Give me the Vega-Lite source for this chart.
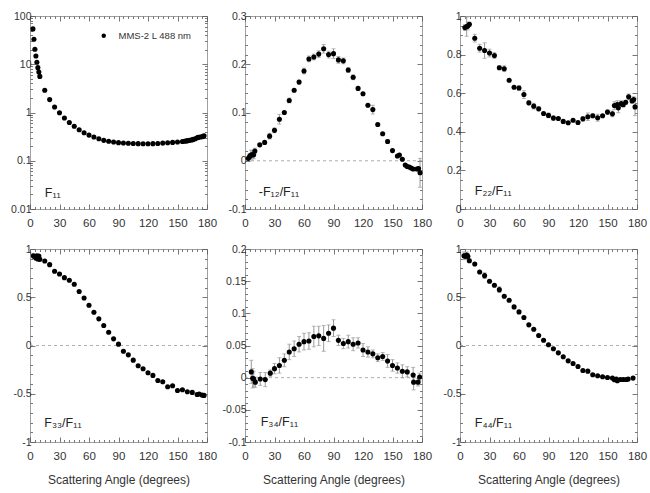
{
"$schema":"https://vega.github.io/schema/vega-lite/v6.json",
"padding":{"left":10,"top":10,"right":2,"bottom":2},
"background":"white",
"config":{"view":{"stroke":"#a0a0a0","strokeWidth":1},
 "axis":{"domain":false,"grid":false,"tickColor":"#555","tickWidth":0.8,"labelFont":"Liberation Sans","labelColor":"#333","labelFontSize":10.5,"titleFont":"Liberation Sans","titleFontWeight":"normal","titleFontSize":12,"titleColor":"#333","labelFlush":false,"labelOverlap":false,"labelBound":false},
 "legend":{"labelFont":"Liberation Sans","labelFontSize":9.5,"labelColor":"#333"},
 "text":{"font":"Liberation Sans","fontSize":12.5,"color":"#222"}},
"data":{"values":[
{"p":"F11","a":3,"v":54},{"p":"F11","a":4,"v":33},{"p":"F11","a":5,"v":20.4},{"p":"F11","a":6,"v":14.8},{"p":"F11","a":7,"v":11},{"p":"F11","a":8,"v":8.5},{"p":"F11","a":9,"v":6.9},{"p":"F11","a":10,"v":5.6},{"p":"F11","a":15,"v":2.9},{"p":"F11","a":20,"v":1.85},{"p":"F11","a":25,"v":1.3},{"p":"F11","a":30,"v":0.99},{"p":"F11","a":35,"v":0.77},{"p":"F11","a":40,"v":0.62},{"p":"F11","a":45,"v":0.52},{"p":"F11","a":50,"v":0.44},{"p":"F11","a":55,"v":0.38},{"p":"F11","a":60,"v":0.34},{"p":"F11","a":65,"v":0.31},{"p":"F11","a":70,"v":0.286},{"p":"F11","a":75,"v":0.265},{"p":"F11","a":80,"v":0.253},{"p":"F11","a":85,"v":0.245},{"p":"F11","a":90,"v":0.237},{"p":"F11","a":95,"v":0.233},{"p":"F11","a":100,"v":0.23},{"p":"F11","a":105,"v":0.228},{"p":"F11","a":110,"v":0.226},{"p":"F11","a":115,"v":0.225},{"p":"F11","a":120,"v":0.225},{"p":"F11","a":125,"v":0.226},{"p":"F11","a":130,"v":0.228},{"p":"F11","a":135,"v":0.232},{"p":"F11","a":140,"v":0.236},{"p":"F11","a":145,"v":0.24},{"p":"F11","a":150,"v":0.245},{"p":"F11","a":155,"v":0.25},{"p":"F11","a":157,"v":0.254},{"p":"F11","a":159,"v":0.258},{"p":"F11","a":160,"v":0.26},{"p":"F11","a":162,"v":0.265},{"p":"F11","a":164,"v":0.27},{"p":"F11","a":165,"v":0.273},{"p":"F11","a":166,"v":0.277},{"p":"F11","a":168,"v":0.285},{"p":"F11","a":170,"v":0.3},{"p":"F11","a":171,"v":0.305},{"p":"F11","a":173,"v":0.31},{"p":"F11","a":175,"v":0.315},{"p":"F11","a":176,"v":0.32},{"p":"F11","a":177,"v":0.33},
{"p":"F12","a":3.4,"v":0.005},{"p":"F12","a":4.7,"v":0.009,"e":0.006},{"p":"F12","a":6,"v":0.012,"e":0.01},{"p":"F12","a":7.4,"v":0.013,"e":0.008},{"p":"F12","a":8.8,"v":0.012,"e":0.008},{"p":"F12","a":10,"v":0.02,"e":0.006},{"p":"F12","a":15,"v":0.033},{"p":"F12","a":20,"v":0.038},{"p":"F12","a":25,"v":0.051,"e":0.006},{"p":"F12","a":30,"v":0.063,"e":0.005},{"p":"F12","a":35,"v":0.086,"e":0.01},{"p":"F12","a":40,"v":0.1},{"p":"F12","a":45,"v":0.125,"e":0.005},{"p":"F12","a":50,"v":0.146},{"p":"F12","a":55,"v":0.163,"e":0.004},{"p":"F12","a":60,"v":0.186,"e":0.006},{"p":"F12","a":65,"v":0.211,"e":0.006},{"p":"F12","a":70,"v":0.215,"e":0.006},{"p":"F12","a":75,"v":0.221,"e":0.007},{"p":"F12","a":80,"v":0.232,"e":0.009},{"p":"F12","a":85,"v":0.22,"e":0.007},{"p":"F12","a":90,"v":0.222,"e":0.01},{"p":"F12","a":95,"v":0.209,"e":0.007},{"p":"F12","a":100,"v":0.207,"e":0.006},{"p":"F12","a":105,"v":0.188,"e":0.005},{"p":"F12","a":110,"v":0.173,"e":0.005},{"p":"F12","a":115,"v":0.15},{"p":"F12","a":120,"v":0.139},{"p":"F12","a":125,"v":0.115},{"p":"F12","a":130,"v":0.106,"e":0.009},{"p":"F12","a":135,"v":0.075},{"p":"F12","a":140,"v":0.056},{"p":"F12","a":145,"v":0.04,"e":0.004},{"p":"F12","a":150,"v":0.021},{"p":"F12","a":155,"v":0.01},{"p":"F12","a":157,"v":0.012},{"p":"F12","a":160,"v":0.003},{"p":"F12","a":163,"v":-0.009},{"p":"F12","a":165,"v":-0.012},{"p":"F12","a":167,"v":-0.013},{"p":"F12","a":169,"v":-0.015},{"p":"F12","a":171,"v":-0.017},{"p":"F12","a":175,"v":-0.017,"e":0.004},{"p":"F12","a":176.5,"v":-0.016},{"p":"F12","a":178,"v":-0.025,"e":0.03},
{"p":"F22","a":5,"v":0.94,"e":0.015},{"p":"F22","a":6.8,"v":0.945,"e":0.05},{"p":"F22","a":8,"v":0.948,"e":0.02},{"p":"F22","a":9.5,"v":0.957,"e":0.01},{"p":"F22","a":15,"v":0.885,"e":0.02},{"p":"F22","a":20,"v":0.833,"e":0.02},{"p":"F22","a":25,"v":0.821,"e":0.04},{"p":"F22","a":30,"v":0.808,"e":0.02},{"p":"F22","a":35,"v":0.795,"e":0.015},{"p":"F22","a":40,"v":0.732,"e":0.01},{"p":"F22","a":45,"v":0.727,"e":0.015},{"p":"F22","a":50,"v":0.667},{"p":"F22","a":55,"v":0.631},{"p":"F22","a":60,"v":0.627,"e":0.012},{"p":"F22","a":65,"v":0.593,"e":0.02},{"p":"F22","a":70,"v":0.55,"e":0.01},{"p":"F22","a":75,"v":0.533,"e":0.015},{"p":"F22","a":80,"v":0.519,"e":0.01},{"p":"F22","a":85,"v":0.495},{"p":"F22","a":90,"v":0.485,"e":0.012},{"p":"F22","a":95,"v":0.471,"e":0.012},{"p":"F22","a":100,"v":0.469},{"p":"F22","a":105,"v":0.454},{"p":"F22","a":110,"v":0.447},{"p":"F22","a":115,"v":0.46},{"p":"F22","a":120,"v":0.448},{"p":"F22","a":125,"v":0.467,"e":0.012},{"p":"F22","a":130,"v":0.478,"e":0.02},{"p":"F22","a":135,"v":0.483,"e":0.01},{"p":"F22","a":140,"v":0.473,"e":0.018},{"p":"F22","a":145,"v":0.483},{"p":"F22","a":150,"v":0.502,"e":0.012},{"p":"F22","a":155,"v":0.493,"e":0.015},{"p":"F22","a":157,"v":0.536,"e":0.02},{"p":"F22","a":160,"v":0.541,"e":0.02},{"p":"F22","a":161,"v":0.524,"e":0.025},{"p":"F22","a":164,"v":0.546,"e":0.015},{"p":"F22","a":166,"v":0.54,"e":0.01},{"p":"F22","a":168.5,"v":0.553,"e":0.01},{"p":"F22","a":171.5,"v":0.581,"e":0.015},{"p":"F22","a":175,"v":0.56,"e":0.01},{"p":"F22","a":176.6,"v":0.567,"e":0.015},{"p":"F22","a":178,"v":0.529,"e":0.045},
{"p":"F33","a":3.4,"v":0.93,"e":0.02},{"p":"F33","a":4.7,"v":0.92,"e":0.02},{"p":"F33","a":6,"v":0.907,"e":0.02},{"p":"F33","a":7,"v":0.93},{"p":"F33","a":8,"v":0.897,"e":0.02},{"p":"F33","a":9,"v":0.928},{"p":"F33","a":10,"v":0.893},{"p":"F33","a":15,"v":0.876},{"p":"F33","a":20,"v":0.838,"e":0.015},{"p":"F33","a":25,"v":0.769},{"p":"F33","a":30,"v":0.741,"e":0.015},{"p":"F33","a":35,"v":0.703},{"p":"F33","a":40,"v":0.676},{"p":"F33","a":45,"v":0.634},{"p":"F33","a":50,"v":0.559},{"p":"F33","a":55,"v":0.493},{"p":"F33","a":60,"v":0.417},{"p":"F33","a":65,"v":0.345},{"p":"F33","a":70,"v":0.276},{"p":"F33","a":75,"v":0.207},{"p":"F33","a":80,"v":0.138},{"p":"F33","a":85,"v":0.069},{"p":"F33","a":90,"v":0.014},{"p":"F33","a":95,"v":-0.059},{"p":"F33","a":100,"v":-0.097},{"p":"F33","a":105,"v":-0.152},{"p":"F33","a":110,"v":-0.21},{"p":"F33","a":115,"v":-0.241},{"p":"F33","a":120,"v":-0.283},{"p":"F33","a":125,"v":-0.31},{"p":"F33","a":130,"v":-0.362},{"p":"F33","a":135,"v":-0.376},{"p":"F33","a":140,"v":-0.428},{"p":"F33","a":145,"v":-0.417},{"p":"F33","a":150,"v":-0.466},{"p":"F33","a":155,"v":-0.459},{"p":"F33","a":160,"v":-0.479},{"p":"F33","a":165,"v":-0.486},{"p":"F33","a":170,"v":-0.507,"e":0.015},{"p":"F33","a":172,"v":-0.503},{"p":"F33","a":175,"v":-0.514,"e":0.015},{"p":"F33","a":177,"v":-0.517},
{"p":"F34","a":6.4,"v":0.009,"e":0.018},{"p":"F34","a":7.8,"v":-0.001,"e":0.015},{"p":"F34","a":9,"v":-0.002,"e":0.012},{"p":"F34","a":10.5,"v":-0.007,"e":0.008},{"p":"F34","a":15.5,"v":-0.002,"e":0.01},{"p":"F34","a":20.6,"v":-0.003,"e":0.011},{"p":"F34","a":25.7,"v":0.007,"e":0.005},{"p":"F34","a":30,"v":0.014,"e":0.008},{"p":"F34","a":35,"v":0.019,"e":0.012},{"p":"F34","a":40,"v":0.027,"e":0.01},{"p":"F34","a":45,"v":0.04,"e":0.012},{"p":"F34","a":50,"v":0.045,"e":0.012},{"p":"F34","a":55,"v":0.052,"e":0.012},{"p":"F34","a":60,"v":0.056,"e":0.013},{"p":"F34","a":65,"v":0.057,"e":0.013},{"p":"F34","a":70,"v":0.064,"e":0.016},{"p":"F34","a":75,"v":0.065,"e":0.015},{"p":"F34","a":80,"v":0.061,"e":0.02},{"p":"F34","a":85,"v":0.069,"e":0.013},{"p":"F34","a":90,"v":0.077,"e":0.013},{"p":"F34","a":95,"v":0.058,"e":0.008},{"p":"F34","a":100,"v":0.053,"e":0.008},{"p":"F34","a":105,"v":0.056,"e":0.01},{"p":"F34","a":110,"v":0.052,"e":0.01},{"p":"F34","a":115,"v":0.054,"e":0.008},{"p":"F34","a":120,"v":0.043,"e":0.01},{"p":"F34","a":125,"v":0.04,"e":0.008},{"p":"F34","a":130,"v":0.037,"e":0.006},{"p":"F34","a":135,"v":0.031,"e":0.006},{"p":"F34","a":140,"v":0.033,"e":0.006},{"p":"F34","a":145,"v":0.026,"e":0.01},{"p":"F34","a":150,"v":0.019,"e":0.009},{"p":"F34","a":155,"v":0.015,"e":0.008},{"p":"F34","a":160,"v":0.01,"e":0.01},{"p":"F34","a":165,"v":0.009,"e":0.008},{"p":"F34","a":171,"v":0.004,"e":0.012},{"p":"F34","a":171.5,"v":-0.007,"e":0.012},{"p":"F34","a":176,"v":-0.007,"e":0.006},{"p":"F34","a":177.6,"v":0.001,"e":0.006},
{"p":"F44","a":4,"v":0.93,"e":0.04},{"p":"F44","a":5.4,"v":0.924,"e":0.03},{"p":"F44","a":6.8,"v":0.938,"e":0.03},{"p":"F44","a":8,"v":0.924,"e":0.03},{"p":"F44","a":9.5,"v":0.879,"e":0.02},{"p":"F44","a":15,"v":0.845},{"p":"F44","a":20,"v":0.762},{"p":"F44","a":25,"v":0.724,"e":0.03},{"p":"F44","a":30,"v":0.666},{"p":"F44","a":35,"v":0.624},{"p":"F44","a":40,"v":0.579,"e":0.03},{"p":"F44","a":45,"v":0.51},{"p":"F44","a":50,"v":0.469},{"p":"F44","a":55,"v":0.4},{"p":"F44","a":60,"v":0.348},{"p":"F44","a":65,"v":0.29},{"p":"F44","a":70,"v":0.214},{"p":"F44","a":75,"v":0.169},{"p":"F44","a":80,"v":0.103},{"p":"F44","a":85,"v":0.055},{"p":"F44","a":90,"v":0.007},{"p":"F44","a":95,"v":-0.034},{"p":"F44","a":100,"v":-0.076},{"p":"F44","a":105,"v":-0.117},{"p":"F44","a":110,"v":-0.159},{"p":"F44","a":115,"v":-0.186},{"p":"F44","a":120,"v":-0.217},{"p":"F44","a":125,"v":-0.259},{"p":"F44","a":130,"v":-0.266},{"p":"F44","a":135,"v":-0.303},{"p":"F44","a":140,"v":-0.314},{"p":"F44","a":145,"v":-0.324},{"p":"F44","a":150,"v":-0.331},{"p":"F44","a":155,"v":-0.338},{"p":"F44","a":157,"v":-0.355},{"p":"F44","a":159,"v":-0.348},{"p":"F44","a":160,"v":-0.366},{"p":"F44","a":163,"v":-0.352},{"p":"F44","a":166,"v":-0.352},{"p":"F44","a":169,"v":-0.352},{"p":"F44","a":171,"v":-0.348},{"p":"F44","a":176,"v":-0.338}
]},
"columns":3,
"spacing":{"row":40,"column":38},
"bounds":"flush",
"resolve":{"scale":{"color":"independent"},"legend":{"color":"independent"}},
"concat":[
  {"width":177,"height":193,
   "resolve":{"axis":{"x":"independent","y":"independent"}},
   "layer":[
    {"transform":[{"filter":"datum.p==='F11'"}],"mark":{"type":"circle","opacity":1,"size":26},
     "encoding":{
      "x":{"field":"a","type":"quantitative","scale":{"domain":[0,180],"nice":false},"axis":{"orient":"bottom","title":null,"values":[0,5,10,15,20,25,30,35,40,45,50,55,60,65,70,75,80,85,90,95,100,105,110,115,120,125,130,135,140,145,150,155,160,165,170,175,180],"labelExpr":"datum.value % 30 === 0 ? datum.value + '' : ''","labelFontSize":11.5,"labelPadding":13,"tickSize":{"condition":{"test":"datum.value % 30 === 0","value":-5},"value":-2.5}}},
      "y":{"field":"v","type":"quantitative","scale":{"type":"log","domain":[0.01,100],"nice":false},"axis":{"orient":"left","title":null,"values":[0.01,0.02,0.03,0.04,0.05,0.06,0.07,0.08,0.09,0.1,0.2,0.3,0.4,0.5,0.6,0.7,0.8,0.9,1,2,3,4,5,6,7,8,9,10,20,30,40,50,60,70,80,90,100],"labelExpr":"abs(log(datum.value)/LN10 - round(log(datum.value)/LN10)) < 0.001 ? datum.value + '' : ''","labelPadding":4,"tickSize":{"condition":{"test":"abs(log(datum.value)/LN10 - round(log(datum.value)/LN10)) < 0.001","value":-5},"value":-2.5}}},
      "color":{"datum":"MMS-2 L 488 nm","type":"nominal","scale":{"range":["black"]},"legend":{"orient":"top-right","title":null,"offset":15,"symbolType":"circle","symbolSize":20,"labelOffset":10}}}},
    {"data":{"values":[{"t":"F₁₁"}]},"mark":{"type":"text","align":"left","baseline":"alphabetic"},
     "encoding":{
      "text":{"field":"t"},
      "x":{"datum":15,"type":"quantitative","axis":{"orient":"top","title":null,"labels":false,"values":[0,5,10,15,20,25,30,35,40,45,50,55,60,65,70,75,80,85,90,95,100,105,110,115,120,125,130,135,140,145,150,155,160,165,170,175,180],"tickSize":{"condition":{"test":"datum.value % 30 === 0","value":-5},"value":-2.5}}},
      "y":{"datum":0.018,"type":"quantitative","axis":{"orient":"right","title":null,"labels":false,"values":[0.01,0.02,0.03,0.04,0.05,0.06,0.07,0.08,0.09,0.1,0.2,0.3,0.4,0.5,0.6,0.7,0.8,0.9,1,2,3,4,5,6,7,8,9,10,20,30,40,50,60,70,80,90,100],"tickSize":{"condition":{"test":"abs(log(datum.value)/LN10 - round(log(datum.value)/LN10)) < 0.001","value":-5},"value":-2.5}}}}}
   ]},
  {"width":177,"height":193,
   "resolve":{"axis":{"x":"independent","y":"independent"}},
   "layer":[
    {"data":{"values":[{"z":0}]},"mark":{"type":"rule","color":"#999","strokeDash":[3,3],"strokeWidth":0.8},"encoding":{"y":{"field":"z","type":"quantitative","axis":null}}},
    {"transform":[{"filter":"datum.p==='F12' && datum.e > 0"}],"mark":{"type":"errorbar","ticks":{"size":4},"color":"#999"},
     "encoding":{
      "x":{"field":"a","type":"quantitative","scale":{"domain":[0,180],"nice":false},"axis":{"orient":"bottom","title":null,"values":[0,5,10,15,20,25,30,35,40,45,50,55,60,65,70,75,80,85,90,95,100,105,110,115,120,125,130,135,140,145,150,155,160,165,170,175,180],"labelExpr":"datum.value % 30 === 0 ? datum.value + '' : ''","labelFontSize":11.5,"labelPadding":13,"tickSize":{"condition":{"test":"datum.value % 30 === 0","value":-5},"value":-2.5}}},
      "y":{"field":"v","type":"quantitative","scale":{"domain":[-0.1,0.3],"nice":false,"zero":false},"axis":{"orient":"left","title":null,"values":[-0.1,-0.08,-0.06,-0.04,-0.02,0,0.02,0.04,0.06,0.08,0.1,0.12,0.14,0.16,0.18,0.2,0.22,0.24,0.26,0.28,0.3],"labelExpr":"abs(datum.value*10 - round(datum.value*10)) < 0.001 ? datum.value + '' : ''","labelPadding":4,"tickSize":{"condition":{"test":"abs(datum.value*10 - round(datum.value*10)) < 0.001","value":-5},"value":-2.5}}},
      "yError":{"field":"e"}}},
    {"transform":[{"filter":"datum.p==='F12'"}],"mark":{"type":"circle","color":"black","opacity":1,"size":26},
     "encoding":{
      "x":{"field":"a","type":"quantitative","axis":{"orient":"top","title":null,"labels":false,"values":[0,5,10,15,20,25,30,35,40,45,50,55,60,65,70,75,80,85,90,95,100,105,110,115,120,125,130,135,140,145,150,155,160,165,170,175,180],"tickSize":{"condition":{"test":"datum.value % 30 === 0","value":-5},"value":-2.5}}},
      "y":{"field":"v","type":"quantitative","axis":{"orient":"right","title":null,"labels":false,"values":[-0.1,-0.08,-0.06,-0.04,-0.02,0,0.02,0.04,0.06,0.08,0.1,0.12,0.14,0.16,0.18,0.2,0.22,0.24,0.26,0.28,0.3],"tickSize":{"condition":{"test":"abs(datum.value*10 - round(datum.value*10)) < 0.001","value":-5},"value":-2.5}}}}},
    {"data":{"values":[{"t":"-F₁₂/F₁₁"}]},"mark":{"type":"text","align":"left","baseline":"alphabetic"},
     "encoding":{"text":{"field":"t"},"x":{"datum":14,"type":"quantitative","axis":null},"y":{"datum":-0.073,"type":"quantitative","axis":null}}}
   ]},
  {"width":177,"height":193,
   "resolve":{"axis":{"x":"independent","y":"independent"}},
   "layer":[
    {"transform":[{"filter":"datum.p==='F22' && datum.e > 0"}],"mark":{"type":"errorbar","ticks":{"size":4},"color":"#999"},
     "encoding":{
      "x":{"field":"a","type":"quantitative","scale":{"domain":[0,180],"nice":false},"axis":{"orient":"bottom","title":null,"values":[0,5,10,15,20,25,30,35,40,45,50,55,60,65,70,75,80,85,90,95,100,105,110,115,120,125,130,135,140,145,150,155,160,165,170,175,180],"labelExpr":"datum.value % 30 === 0 ? datum.value + '' : ''","labelFontSize":11.5,"labelPadding":13,"tickSize":{"condition":{"test":"datum.value % 30 === 0","value":-5},"value":-2.5}}},
      "y":{"field":"v","type":"quantitative","scale":{"domain":[0,1],"nice":false,"zero":false},"axis":{"orient":"left","title":null,"values":[0,0.05,0.1,0.15,0.2,0.25,0.3,0.35,0.4,0.45,0.5,0.55,0.6,0.65,0.7,0.75,0.8,0.85,0.9,0.95,1],"labelExpr":"abs(datum.value*5 - round(datum.value*5)) < 0.001 ? datum.value + '' : ''","labelPadding":4,"tickSize":{"condition":{"test":"abs(datum.value*5 - round(datum.value*5)) < 0.001","value":-5},"value":-2.5}}},
      "yError":{"field":"e"}}},
    {"transform":[{"filter":"datum.p==='F22'"}],"mark":{"type":"circle","color":"black","opacity":1,"size":26},
     "encoding":{
      "x":{"field":"a","type":"quantitative","axis":{"orient":"top","title":null,"labels":false,"values":[0,5,10,15,20,25,30,35,40,45,50,55,60,65,70,75,80,85,90,95,100,105,110,115,120,125,130,135,140,145,150,155,160,165,170,175,180],"tickSize":{"condition":{"test":"datum.value % 30 === 0","value":-5},"value":-2.5}}},
      "y":{"field":"v","type":"quantitative","axis":{"orient":"right","title":null,"labels":false,"values":[0,0.05,0.1,0.15,0.2,0.25,0.3,0.35,0.4,0.45,0.5,0.55,0.6,0.65,0.7,0.75,0.8,0.85,0.9,0.95,1],"tickSize":{"condition":{"test":"abs(datum.value*5 - round(datum.value*5)) < 0.001","value":-5},"value":-2.5}}}}},
    {"data":{"values":[{"t":"F₂₂/F₁₁"}]},"mark":{"type":"text","align":"left","baseline":"alphabetic"},
     "encoding":{"text":{"field":"t"},"x":{"datum":15,"type":"quantitative","axis":null},"y":{"datum":0.072,"type":"quantitative","axis":null}}}
   ]},
  {"width":177,"height":193,
   "resolve":{"axis":{"x":"independent","y":"independent"}},
   "layer":[
    {"data":{"values":[{"z":0}]},"mark":{"type":"rule","color":"#999","strokeDash":[3,3],"strokeWidth":0.8},"encoding":{"y":{"field":"z","type":"quantitative","axis":null}}},
    {"transform":[{"filter":"datum.p==='F33' && datum.e > 0"}],"mark":{"type":"errorbar","ticks":{"size":4},"color":"#999"},
     "encoding":{
      "x":{"field":"a","type":"quantitative","scale":{"domain":[0,180],"nice":false},"axis":{"orient":"bottom","title":"Scattering Angle (degrees)","titlePadding":10,"values":[0,5,10,15,20,25,30,35,40,45,50,55,60,65,70,75,80,85,90,95,100,105,110,115,120,125,130,135,140,145,150,155,160,165,170,175,180],"labelExpr":"datum.value % 30 === 0 ? datum.value + '' : ''","labelFontSize":11.5,"labelPadding":13,"tickSize":{"condition":{"test":"datum.value % 30 === 0","value":-5},"value":-2.5}}},
      "y":{"field":"v","type":"quantitative","scale":{"domain":[-1,1],"nice":false,"zero":false},"axis":{"orient":"left","title":null,"values":[-1,-0.9,-0.8,-0.7,-0.6,-0.5,-0.4,-0.3,-0.2,-0.1,0,0.1,0.2,0.3,0.4,0.5,0.6,0.7,0.8,0.9,1],"labelExpr":"abs(datum.value*2 - round(datum.value*2)) < 0.001 ? datum.value + '' : ''","labelPadding":4,"tickSize":{"condition":{"test":"abs(datum.value*2 - round(datum.value*2)) < 0.001","value":-5},"value":-2.5}}},
      "yError":{"field":"e"}}},
    {"transform":[{"filter":"datum.p==='F33'"}],"mark":{"type":"circle","color":"black","opacity":1,"size":26},
     "encoding":{
      "x":{"field":"a","type":"quantitative","axis":{"orient":"top","title":null,"labels":false,"values":[0,5,10,15,20,25,30,35,40,45,50,55,60,65,70,75,80,85,90,95,100,105,110,115,120,125,130,135,140,145,150,155,160,165,170,175,180],"tickSize":{"condition":{"test":"datum.value % 30 === 0","value":-5},"value":-2.5}}},
      "y":{"field":"v","type":"quantitative","axis":{"orient":"right","title":null,"labels":false,"values":[-1,-0.9,-0.8,-0.7,-0.6,-0.5,-0.4,-0.3,-0.2,-0.1,0,0.1,0.2,0.3,0.4,0.5,0.6,0.7,0.8,0.9,1],"tickSize":{"condition":{"test":"abs(datum.value*2 - round(datum.value*2)) < 0.001","value":-5},"value":-2.5}}}}},
    {"data":{"values":[{"t":"F₃₃/F₁₁"}]},"mark":{"type":"text","align":"left","baseline":"alphabetic"},
     "encoding":{"text":{"field":"t"},"x":{"datum":14.5,"type":"quantitative","axis":null},"y":{"datum":-0.844,"type":"quantitative","axis":null}}}
   ]},
  {"width":177,"height":193,
   "resolve":{"axis":{"x":"independent","y":"independent"}},
   "layer":[
    {"data":{"values":[{"z":0}]},"mark":{"type":"rule","color":"#999","strokeDash":[3,3],"strokeWidth":0.8},"encoding":{"y":{"field":"z","type":"quantitative","axis":null}}},
    {"transform":[{"filter":"datum.p==='F34' && datum.e > 0"}],"mark":{"type":"errorbar","ticks":{"size":4},"color":"#999"},
     "encoding":{
      "x":{"field":"a","type":"quantitative","scale":{"domain":[0,180],"nice":false},"axis":{"orient":"bottom","title":"Scattering Angle (degrees)","titlePadding":10,"values":[0,5,10,15,20,25,30,35,40,45,50,55,60,65,70,75,80,85,90,95,100,105,110,115,120,125,130,135,140,145,150,155,160,165,170,175,180],"labelExpr":"datum.value % 30 === 0 ? datum.value + '' : ''","labelFontSize":11.5,"labelPadding":13,"tickSize":{"condition":{"test":"datum.value % 30 === 0","value":-5},"value":-2.5}}},
      "y":{"field":"v","type":"quantitative","scale":{"domain":[-0.1,0.2],"nice":false,"zero":false},"axis":{"orient":"left","title":null,"values":[-0.1,-0.09,-0.08,-0.07,-0.06,-0.05,-0.04,-0.03,-0.02,-0.01,0,0.01,0.02,0.03,0.04,0.05,0.06,0.07,0.08,0.09,0.1,0.11,0.12,0.13,0.14,0.15,0.16,0.17,0.18,0.19,0.2],"labelExpr":"abs(datum.value*20 - round(datum.value*20)) < 0.001 ? datum.value + '' : ''","labelPadding":4,"tickSize":{"condition":{"test":"abs(datum.value*20 - round(datum.value*20)) < 0.001","value":-5},"value":-2.5}}},
      "yError":{"field":"e"}}},
    {"transform":[{"filter":"datum.p==='F34'"}],"mark":{"type":"circle","color":"black","opacity":1,"size":26},
     "encoding":{
      "x":{"field":"a","type":"quantitative","axis":{"orient":"top","title":null,"labels":false,"values":[0,5,10,15,20,25,30,35,40,45,50,55,60,65,70,75,80,85,90,95,100,105,110,115,120,125,130,135,140,145,150,155,160,165,170,175,180],"tickSize":{"condition":{"test":"datum.value % 30 === 0","value":-5},"value":-2.5}}},
      "y":{"field":"v","type":"quantitative","axis":{"orient":"right","title":null,"labels":false,"values":[-0.1,-0.09,-0.08,-0.07,-0.06,-0.05,-0.04,-0.03,-0.02,-0.01,0,0.01,0.02,0.03,0.04,0.05,0.06,0.07,0.08,0.09,0.1,0.11,0.12,0.13,0.14,0.15,0.16,0.17,0.18,0.19,0.2],"tickSize":{"condition":{"test":"abs(datum.value*20 - round(datum.value*20)) < 0.001","value":-5},"value":-2.5}}}}},
    {"data":{"values":[{"t":"F₃₄/F₁₁"}]},"mark":{"type":"text","align":"left","baseline":"alphabetic"},
     "encoding":{"text":{"field":"t"},"x":{"datum":16,"type":"quantitative","axis":null},"y":{"datum":-0.0756,"type":"quantitative","axis":null}}}
   ]},
  {"width":177,"height":193,
   "resolve":{"axis":{"x":"independent","y":"independent"}},
   "layer":[
    {"data":{"values":[{"z":0}]},"mark":{"type":"rule","color":"#999","strokeDash":[3,3],"strokeWidth":0.8},"encoding":{"y":{"field":"z","type":"quantitative","axis":null}}},
    {"transform":[{"filter":"datum.p==='F44' && datum.e > 0"}],"mark":{"type":"errorbar","ticks":{"size":4},"color":"#999"},
     "encoding":{
      "x":{"field":"a","type":"quantitative","scale":{"domain":[0,180],"nice":false},"axis":{"orient":"bottom","title":"Scattering Angle (degrees)","titlePadding":10,"values":[0,5,10,15,20,25,30,35,40,45,50,55,60,65,70,75,80,85,90,95,100,105,110,115,120,125,130,135,140,145,150,155,160,165,170,175,180],"labelExpr":"datum.value % 30 === 0 ? datum.value + '' : ''","labelFontSize":11.5,"labelPadding":13,"tickSize":{"condition":{"test":"datum.value % 30 === 0","value":-5},"value":-2.5}}},
      "y":{"field":"v","type":"quantitative","scale":{"domain":[-1,1],"nice":false,"zero":false},"axis":{"orient":"left","title":null,"values":[-1,-0.9,-0.8,-0.7,-0.6,-0.5,-0.4,-0.3,-0.2,-0.1,0,0.1,0.2,0.3,0.4,0.5,0.6,0.7,0.8,0.9,1],"labelExpr":"abs(datum.value*2 - round(datum.value*2)) < 0.001 ? datum.value + '' : ''","labelPadding":4,"tickSize":{"condition":{"test":"abs(datum.value*2 - round(datum.value*2)) < 0.001","value":-5},"value":-2.5}}},
      "yError":{"field":"e"}}},
    {"transform":[{"filter":"datum.p==='F44'"}],"mark":{"type":"circle","color":"black","opacity":1,"size":26},
     "encoding":{
      "x":{"field":"a","type":"quantitative","axis":{"orient":"top","title":null,"labels":false,"values":[0,5,10,15,20,25,30,35,40,45,50,55,60,65,70,75,80,85,90,95,100,105,110,115,120,125,130,135,140,145,150,155,160,165,170,175,180],"tickSize":{"condition":{"test":"datum.value % 30 === 0","value":-5},"value":-2.5}}},
      "y":{"field":"v","type":"quantitative","axis":{"orient":"right","title":null,"labels":false,"values":[-1,-0.9,-0.8,-0.7,-0.6,-0.5,-0.4,-0.3,-0.2,-0.1,0,0.1,0.2,0.3,0.4,0.5,0.6,0.7,0.8,0.9,1],"tickSize":{"condition":{"test":"abs(datum.value*2 - round(datum.value*2)) < 0.001","value":-5},"value":-2.5}}}}},
    {"data":{"values":[{"t":"F₄₄/F₁₁"}]},"mark":{"type":"text","align":"left","baseline":"alphabetic"},
     "encoding":{"text":{"field":"t"},"x":{"datum":15,"type":"quantitative","axis":null},"y":{"datum":-0.844,"type":"quantitative","axis":null}}}
   ]}
]
}
